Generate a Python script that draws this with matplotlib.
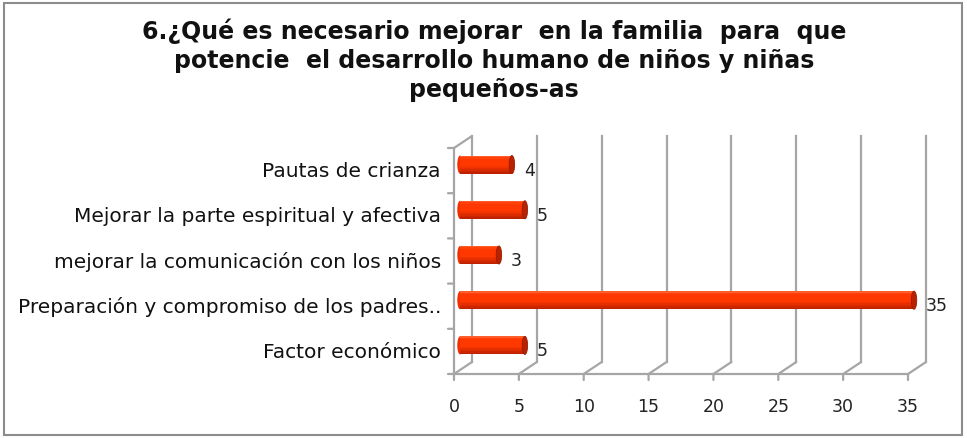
import matplotlib
matplotlib.use("Agg")
import matplotlib.pyplot as plt
import matplotlib.transforms as mtransforms
from matplotlib.patches import Ellipse, Rectangle, ConnectionPatch
import numpy as np

categories = ["Factor económico",
              "Preparación y compromiso de los padres..",
              "mejorar la comunicación con los niños",
              "Mejorar la parte espiritual y afectiva",
              "Pautas de crianza"]
values = [5, 35, 3, 5, 4]
xticks = [0, 5, 10, 15, 20, 25, 30, 35]
title = "6.¿Qué es necesario mejorar  en la familia  para  que\npotencie  el desarrollo humano de niños y niñas\npequeños-as"

W, H = 967, 439
fig = plt.figure(figsize=(W / 100, H / 100), dpi=100)
fig.patch.set_facecolor("white")

# outer border
fig.add_artist(Rectangle((4 / W, 3 / H), 958 / W, 432 / H, transform=fig.transFigure,
                         fill=False, edgecolor="#8C8C8C", lw=1.5))

x0, x1, ytop, ybot = 454, 908, 149, 375
ax = fig.add_axes([x0 / W, 1 - ybot / H, (x1 - x0) / W, (ybot - ytop) / H])
ax.set_xlim(0, 35)
ax.set_ylim(-0.5, 4.5)
ax.axis("off")

grid_c = "#A6A6A6"
back = mtransforms.offset_copy(ax.transData, fig=fig, x=18, y=12, units="dots")
mid = mtransforms.offset_copy(ax.transData, fig=fig, x=6, y=6, units="dots")

# back wall gridlines
for t in xticks:
    ax.plot([t, t], [-0.5, 4.5], color=grid_c, lw=1.6, transform=back, clip_on=False)
    ax.add_artist(ConnectionPatch((t, -0.5), (t, -0.5), coordsA=ax.transData, coordsB=back,
                                  color=grid_c, lw=1.6))
    ax.add_artist(ConnectionPatch((t, -0.5), (t, -0.5), coordsA=ax.transData,
                                  coordsB=mtransforms.offset_copy(ax.transData, fig=fig, x=0, y=-6, units="dots"),
                                  color=grid_c, lw=1.6))
    ax.text(t, -0.5, str(t), transform=mtransforms.offset_copy(ax.transData, fig=fig, x=0, y=-32, units="dots"),
            ha="center", va="center", fontsize=12.5, color="#222222", family="DejaVu Sans")

# left wall top diagonal
ax.add_artist(ConnectionPatch((0, 4.5), (0, 4.5), coordsA=ax.transData, coordsB=back,
                              color=grid_c, lw=1.6))
ax.plot([0, 0], [-0.5, 4.5], color=grid_c, lw=1.6, clip_on=False)
ax.plot([0, 35], [-0.5, -0.5], color=grid_c, lw=1.6, clip_on=False)
for b in [-0.5, 0.5, 1.5, 2.5, 3.5, 4.5]:
    ax.add_artist(ConnectionPatch((0, b), (0, b), coordsA=ax.transData,
                                  coordsB=mtransforms.offset_copy(ax.transData, fig=fig, x=-6, y=0, units="dots"),
                                  color=grid_c, lw=1.6))

# category labels
for i, c in enumerate(categories):
    ax.text(0, i, c, transform=mtransforms.offset_copy(ax.transData, fig=fig, x=-13, y=0, units="dots"),
            ha="right", va="center", fontsize=14.5, color="#111111", family="DejaVu Sans")

# cylinders with vertical shading
bh = 0.40
cap_w = 0.42
n = 12
edges = np.linspace(-bh / 2, bh / 2, n + 1)
top_c = np.array([1.0, 0.42, 0.22])
mid_c = np.array([1.0, 0.22, 0.0])
bot_c = np.array([0.72, 0.12, 0.0])
for i, v in enumerate(values):
    ax.add_patch(Ellipse((0, i), cap_w, bh, transform=mid, facecolor="#F03000",
                         edgecolor="none", clip_on=False, zorder=2))
    for k in range(n):
        f = (k + 0.5) / n  # 0 bottom -> 1 top
        if f < 0.45:
            col = bot_c + (mid_c - bot_c) * (f / 0.45)
        elif f < 0.85:
            col = mid_c
        else:
            col = mid_c + (top_c - mid_c) * ((f - 0.85) / 0.15)
        ax.barh(i + (edges[k] + edges[k + 1]) / 2, v, height=edges[k + 1] - edges[k],
                left=0, color=tuple(col), transform=mid, clip_on=False, zorder=3, linewidth=0)
    ax.add_patch(Ellipse((v, i), cap_w, bh, transform=mid, facecolor="#B82200",
                         edgecolor="#9A1C00", lw=0.6, clip_on=False, zorder=4))
    ax.text(v, i, str(v), transform=mtransforms.offset_copy(ax.transData, fig=fig, x=18, y=1, units="dots"),
            ha="left", va="center", fontsize=12.5, color="#222222", family="DejaVu Sans", zorder=5)

fig.text(494 / W, 1 - 19 / H, title, ha="center", va="top", fontsize=17, fontweight="bold",
         family="DejaVu Sans", linespacing=1.24, color="#111111")

fig.savefig("out.png", dpi=100)
